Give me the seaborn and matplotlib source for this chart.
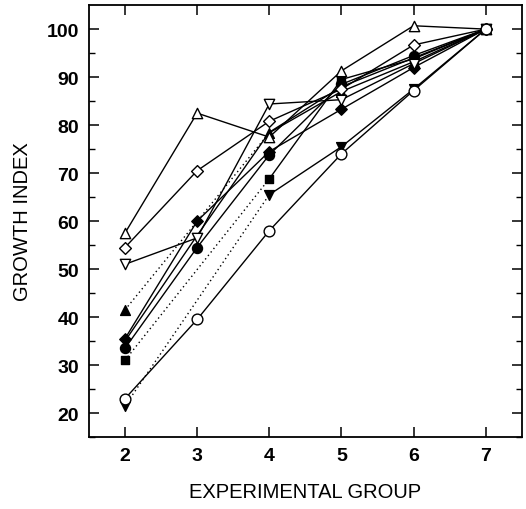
import numpy as np
import pandas as pd
import matplotlib.pyplot as plt
import seaborn as sns

# Experimental groups on the x axis
groups = [2, 3, 4, 5, 6, 7]

# Growth index per series (NaN = no measurement in that group)
open_circle = [23.0, 39.5, 58.0, 74.0, 87.2, 100.0]
open_tri_up = [57.5, 82.5, 77.5, 91.3, 100.7, 100.0]
open_diamond = [54.5, 70.5, 80.8, 87.5, 96.7, 100.0]
open_tri_down = [51.0, 56.5, 84.4, 85.3, 92.8, 100.0]
filled_tri_up = [41.5, np.nan, 78.4, 87.0, 93.2, 100.0]
filled_square = [31.0, np.nan, 68.8, 89.5, 93.8, 100.0]
filled_tri_down = [21.5, np.nan, 65.5, 75.5, 87.5, 100.0]
filled_diamond = [35.5, 60.0, 74.5, 83.3, 92.0, 100.0]
filled_circle = [33.5, 54.5, 73.8, 88.5, 94.5, 100.0]
unmarked = [35.0, 57.0, 78.5, 88.0, 94.0, 100.0]

sns.set_style("ticks")
plt.rcParams['font.family'] = ['Liberation Sans', 'DejaVu Sans']
for key in ["text.color", "axes.labelcolor", "xtick.color", "ytick.color", "axes.edgecolor"]:
    plt.rcParams[key] = "black"

fig, ax = plt.subplots(figsize=(5.26, 5.10), dpi=100)
fig.subplots_adjust(left=0.169, right=0.992, bottom=0.141, top=0.988)

# (values, marker, filled, marker area)
series = [
    (unmarked, None, True, 0),
    (filled_tri_down, "v", True, 50),
    (filled_square, "s", True, 40),
    (filled_tri_up, "^", True, 50),
    (filled_circle, "o", True, 52),
    (filled_diamond, "D", True, 34),
    (open_tri_down, "v", False, 55),
    (open_tri_up, "^", False, 55),
    (open_diamond, "D", False, 36),
    (open_circle, "o", False, 60),
]

for z, (vals, marker, filled, size) in enumerate(series):
    df = pd.DataFrame({"group": groups, "index": vals})
    valid = df.dropna().reset_index(drop=True)
    # solid segments between neighbouring groups, dotted across gaps
    for i in range(len(valid) - 1):
        seg = valid.iloc[i:i + 2]
        gap = seg["group"].iloc[1] - seg["group"].iloc[0] > 1
        sns.lineplot(data=seg, x="group", y="index", ax=ax, color="black",
                     linewidth=1.0, linestyle=(0, (1, 2.2)) if gap else "-",
                     zorder=2 + z * 0.01)
    if marker is not None:
        sns.scatterplot(data=valid, x="group", y="index", ax=ax, marker=marker,
                        s=size, color="black" if filled else "white",
                        edgecolor="black", linewidth=1.0, zorder=3 + z * 0.01)

ax.set_xlim(1.5, 7.5)
ax.set_ylim(15, 105)
ax.set_xticks(groups)
ax.set_yticks(range(20, 101, 10))
ax.set_yticks(range(15, 105, 5), minor=True)
ax.tick_params(direction="in", top=True, right=True, length=7, width=1.1,
               labelsize=14, pad=7)
ax.tick_params(which="minor", axis="y", direction="in", left=True, right=True,
               length=4, width=1.0)
plt.setp(ax.get_xticklabels() + ax.get_yticklabels(), fontweight="bold")
for sp in ax.spines.values():
    sp.set_linewidth(1.3)

ax.set_xlabel("EXPERIMENTAL GROUP", fontsize=14.5, labelpad=13)
ax.set_ylabel("GROWTH INDEX", fontsize=14.5, labelpad=11)

plt.savefig("out.png", dpi=100)
